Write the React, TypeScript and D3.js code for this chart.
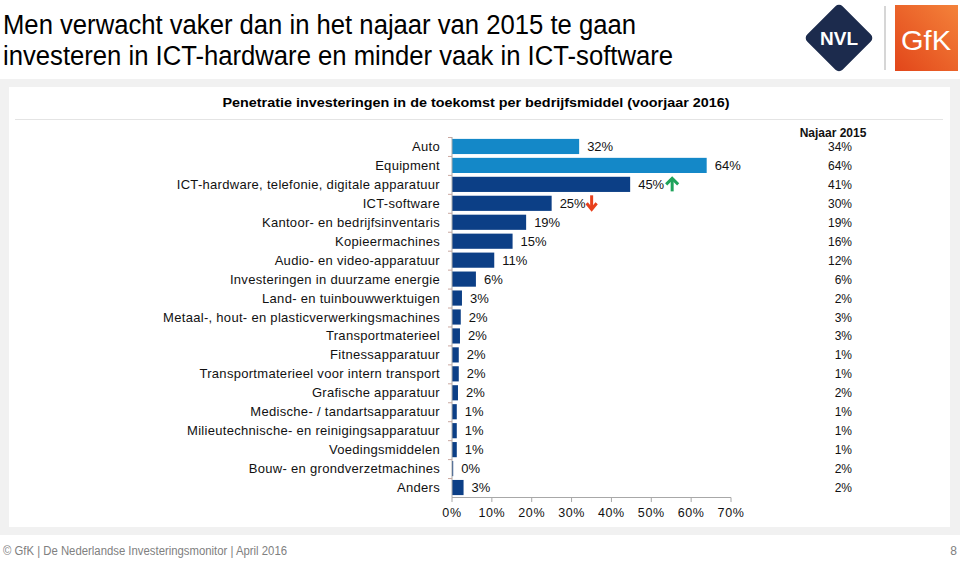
import React from "react";
import * as d3 from "d3";

const categories = [
  "Auto",
  "Equipment",
  "ICT-hardware, telefonie, digitale apparatuur",
  "ICT-software",
  "Kantoor- en bedrijfsinventaris",
  "Kopieermachines",
  "Audio- en video-apparatuur",
  "Investeringen in duurzame energie",
  "Land- en tuinbouwwerktuigen",
  "Metaal-, hout- en plasticverwerkingsmachines",
  "Transportmaterieel",
  "Fitnessapparatuur",
  "Transportmaterieel voor intern transport",
  "Grafische apparatuur",
  "Medische- / tandartsapparatuur",
  "Milieutechnische- en reinigingsapparatuur",
  "Voedingsmiddelen",
  "Bouw- en grondverzetmachines",
  "Anders",
];
const voorjaar2016 = [31.9, 63.9, 44.7, 25.0, 18.6, 15.2, 10.6, 6.0, 2.5, 2.2, 2.0, 1.7, 1.7, 1.5, 1.2, 1.2, 1.2, 0.3, 2.9];
const najaar2015 = [34, 64, 41, 30, 19, 16, 12, 6, 2, 3, 3, 1, 1, 2, 1, 1, 1, 2, 2];
const xTicks = [0, 10, 20, 30, 40, 50, 60, 70];
const upArrows = ["ICT-hardware, telefonie, digitale apparatuur"];
const downArrows = ["ICT-software"];

const FONT = "'Liberation Sans', Arial, sans-serif";

export default function App() {
  const W = 960;
  const H = 561;
  const x = d3.scaleLinear().domain([0, 70]).range([452, 731]);
  const y = d3.scaleBand<string>().domain(categories).range([137, 497]).paddingInner(0.2).paddingOuter(0.1);
  const bw = y.bandwidth();
  const step = y.step();

  const arrowUp = (cx: number, cy: number) => (
    <g stroke="#1fa35b" strokeWidth={3} fill="none">
      <line x1={cx} y1={cy - 6} x2={cx} y2={cy + 7} />
      <polyline points={`${cx - 6},${cy} ${cx},${cy - 6} ${cx + 6},${cy}`} />
    </g>
  );
  const arrowDown = (cx: number, cy: number) => (
    <g stroke="#e8401c" strokeWidth={3} fill="none">
      <line x1={cx} y1={cy - 8} x2={cx} y2={cy + 6} />
      <polyline points={`${cx - 5},${cy} ${cx},${cy + 6} ${cx + 5},${cy}`} />
    </g>
  );

  return (
    <svg width={W} height={H} style={{ position: "absolute", left: 0, top: 0, fontFamily: FONT }}>
      <rect x={0} y={0} width={W} height={H} fill="#ffffff" />
      {/* title */}
      <text x={3} y={34} fontSize={27} fill="#000" textLength={633} lengthAdjust="spacingAndGlyphs">
        Men verwacht vaker dan in het najaar van 2015 te gaan
      </text>
      <text x={3} y={65} fontSize={27} fill="#000" textLength={670} lengthAdjust="spacingAndGlyphs">
        investeren in ICT-hardware en minder vaak in ICT-software
      </text>

      {/* logos */}
      <g transform="translate(839,38) rotate(45)">
        <rect x={-25} y={-25} width={50} height={50} rx={5} fill="#1c2b4d" />
      </g>
      <text x={839} y={45} fontSize={19} fontWeight="bold" fill="#fff" textAnchor="middle">NVL</text>
      <line x1={885} y1={6} x2={885} y2={70} stroke="#c8c8c8" strokeWidth={1.5} />
      <defs>
        <linearGradient id="gfk" x1="0" y1="1" x2="1" y2="0">
          <stop offset="0" stopColor="#e2461a" />
          <stop offset="1" stopColor="#f4823a" />
        </linearGradient>
      </defs>
      <rect x={895} y={5} width={63} height={66} fill="url(#gfk)" />
      <text x={926} y={50} fontSize={28} fill="#fff" textAnchor="middle" textLength={50} lengthAdjust="spacingAndGlyphs">GfK</text>

      {/* panel frame */}
      <rect x={0} y={79} width={W} height={456} fill="#f1f1f1" />
      <rect x={9} y={87} width={941} height={440} fill="#ffffff" />
      <line x1={15} y1={119.5} x2={943} y2={119.5} stroke="#e4e4e4" strokeWidth={1} />
      <text x={476} y={107} fontSize={12.5} fontWeight="bold" textAnchor="middle" fill="#000" textLength={507} lengthAdjust="spacingAndGlyphs">
        Penetratie investeringen in de toekomst per bedrijfsmiddel (voorjaar 2016)
      </text>

      {/* bars */}
      {categories.map((c, i) => {
        const v = voorjaar2016[i];
        const yy = y(c)!;
        const cy = yy + bw / 2;
        const lbl = `${Math.round(v)}%`;
        return (
          <g key={c}>
            <rect x={x(0)} y={yy} width={Math.max(0.8, x(v) - x(0))} height={bw} fill={i < 2 ? "#1488c8" : "#0c3f86"} />
            <text x={440} y={cy + 4.5} fontSize={13} letterSpacing={0.3} textAnchor="end" fill="#111">{c}</text>
            <text x={x(v) + 8} y={cy + 4.5} fontSize={13} fill="#111">{lbl}</text>
            {upArrows.includes(c) && arrowUp(x(v) + 42, cy)}
            {downArrows.includes(c) && arrowDown(x(v) + 40, cy)}
            <text x={852} y={cy + 4.5} fontSize={12} textAnchor="end" fill="#111">{`${najaar2015[i]}%`}</text>
          </g>
        );
      })}
      <text x={833} y={137} fontSize={12} fontWeight="bold" textAnchor="middle" fill="#111">Najaar 2015</text>

      {/* y axis */}
      <line x1={452} y1={137} x2={452} y2={497.5} stroke="#a8a8a8" />
      {categories.map((c, i) => (
        <line key={"t" + i} x1={448} x2={452} y1={137 + i * step + 0.5} y2={137 + i * step + 0.5} stroke="#c9a8a0" />
      ))}
      {/* x axis */}
      <line x1={452} y1={497.5} x2={731} y2={497.5} stroke="#a8a8a8" />
      {xTicks.map((t) => (
        <g key={"x" + t}>
          <line x1={x(t)} x2={x(t)} y1={497.5} y2={502} stroke="#a8a8a8" />
          <text x={x(t)} y={517} fontSize={12.5} letterSpacing={0.6} textAnchor="middle" fill="#111">{`${t}%`}</text>
        </g>
      ))}

      {/* footer */}
      <text x={3} y={555} fontSize={12} fill="#808080" textLength={284} lengthAdjust="spacingAndGlyphs">
        © GfK | De Nederlandse Investeringsmonitor | April 2016
      </text>
      <text x={957} y={555} fontSize={12} fill="#808080" textAnchor="end">8</text>
    </svg>
  );
}
